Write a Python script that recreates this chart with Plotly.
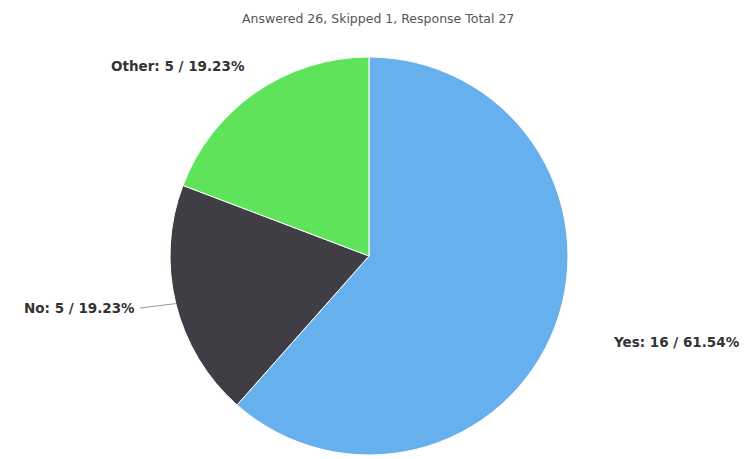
import math
import plotly.graph_objects as go

title_text = "Answered 26, Skipped 1, Response Total 27"
labels = ["Yes", "No", "Other"]
values = [16, 5, 5]
colors = ["#67b0ee", "#403e45", "#5ee35a"]

# the page body has an 8px margin; the figure is drawn inside it
OFF = 8
W, H = 753 - OFF, 459 - OFF
cx, cy, r = 369 - OFF, 256 - OFF, 199  # pixel geometry of the pie (figure coords)

total = sum(values)
texts = [f"{l}: {v} / {v / total * 100:.2f}%" for l, v in zip(labels, values)]

fig = go.Figure(go.Pie(
    labels=labels,
    values=values,
    sort=False,
    direction="clockwise",
    rotation=0,
    marker=dict(colors=colors, line=dict(color="white", width=1)),
    textinfo="none",
    hoverinfo="label+value+percent",
    domain=dict(x=[(cx - r) / W, (cx + r) / W], y=[(H - cy - r) / H, (H - cy + r) / H]),
    showlegend=False,
))

# label placement in page pixels
label_pos = {
    "Yes": dict(x=611, y=342, anchor="left", line=False),
    "No": dict(x=137, y=308, anchor="right", line=True),
    "Other": dict(x=247, y=66, anchor="right", line=False),
}

cum = 0
shapes = []
annotations = []
for l, v, t in zip(labels, values, texts):
    mid = (cum + v / 2) / total * 2 * math.pi
    cum += v
    ex = cx + r * math.sin(mid)
    ey = cy - r * math.cos(mid)
    p = label_pos[l]
    px, py = p["x"] - OFF, p["y"] - OFF
    annotations.append(dict(
        x=px / W, y=1 - py / H, xref="paper", yref="paper",
        text=f"<b>{t}</b>", showarrow=False, xanchor=p["anchor"], yanchor="middle",
        font=dict(family="DejaVu Sans", size=13.5, color="#333333"),
    ))
    if p["line"]:
        lx = px - 3 if p["anchor"] == "left" else px + 3
        shapes.append(dict(type="line", xref="paper", yref="paper",
                           x0=lx / W, y0=1 - py / H,
                           x1=ex / W, y1=1 - ey / H,
                           line=dict(color="#999999", width=1)))

annotations.append(dict(
    x=(378 - OFF) / W, y=1 - (18 - OFF) / H, xref="paper", yref="paper", text=title_text,
    showarrow=False, xanchor="center", yanchor="middle",
    font=dict(family="DejaVu Sans", size=12.5, color="#555555"),
))

fig.update_layout(
    width=W, height=H,
    margin=dict(l=0, r=0, t=0, b=0),
    paper_bgcolor="white", plot_bgcolor="white",
    annotations=annotations, shapes=shapes,
)

fig.write_html("out.html")
